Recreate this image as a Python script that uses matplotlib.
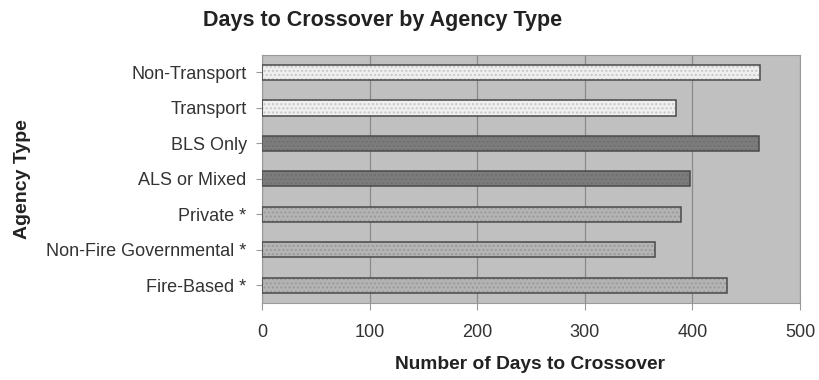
import matplotlib.pyplot as plt
import numpy as np

plt.rcParams["font.family"] = ["Liberation Sans", "DejaVu Sans"]

# data, bottom to top as drawn
categories = ["Fire-Based *", "Non-Fire Governmental *", "Private *",
              "ALS or Mixed", "BLS Only", "Transport", "Non-Transport"]
days = [432, 365, 389, 398, 462, 385, 463]
fills = ["#b4b4b4", "#b4b4b4", "#b4b4b4", "#7c7c7c", "#7c7c7c", "#efefef", "#efefef"]
hatch_cols = ["#9a9a9a", "#9a9a9a", "#9a9a9a", "#707070", "#707070", "#c8c8c8", "#c8c8c8"]

fig = plt.figure(figsize=(8.2, 3.8), dpi=100)
ax = fig.add_axes([0.3195, 0.2026, 0.6561, 0.6534])
ax.set_facecolor("#c0c0c0")

y = np.arange(len(categories))
# hatched fill first, then the dark outline on top
for i in range(len(categories)):
    ax.barh(y[i], days[i], height=0.43, color=fills[i], edgecolor=hatch_cols[i],
            hatch="....", linewidth=0, zorder=2)
ax.barh(y, days, height=0.43, fill=False, edgecolor="#4a4a4a", linewidth=1.1, zorder=3)

ax.set_xlim(0, 500)
ax.set_ylim(-0.5, len(categories) - 0.5)
ax.set_xticks([0, 100, 200, 300, 400, 500])
ax.set_yticks(y)
ax.set_yticklabels(categories)
ax.xaxis.grid(True, color="#8a8a8a", linewidth=0.9, zorder=1)
ax.set_axisbelow(True)

for s in ax.spines.values():
    s.set_color("#9a9a9a")
ax.tick_params(axis="x", length=5, color="#9a9a9a", labelsize=13, labelcolor="#333333", pad=10)
ax.tick_params(axis="y", length=4, color="#9a9a9a", labelsize=13, labelcolor="#333333", pad=7)

fig.text(0.467, 0.945, "Days to Crossover by Agency Type", ha="center", va="center",
         fontsize=15.5, fontweight="bold", color="#222222")
fig.text(0.027, 0.53, "Agency Type", ha="center", va="center", rotation=90,
         fontsize=14, fontweight="bold", color="#222222")
fig.text(0.646, 0.042, "Number of Days to Crossover", ha="center", va="center",
         fontsize=13.8, fontweight="bold", color="#222222")

fig.savefig("out.png", dpi=100, facecolor="white")
